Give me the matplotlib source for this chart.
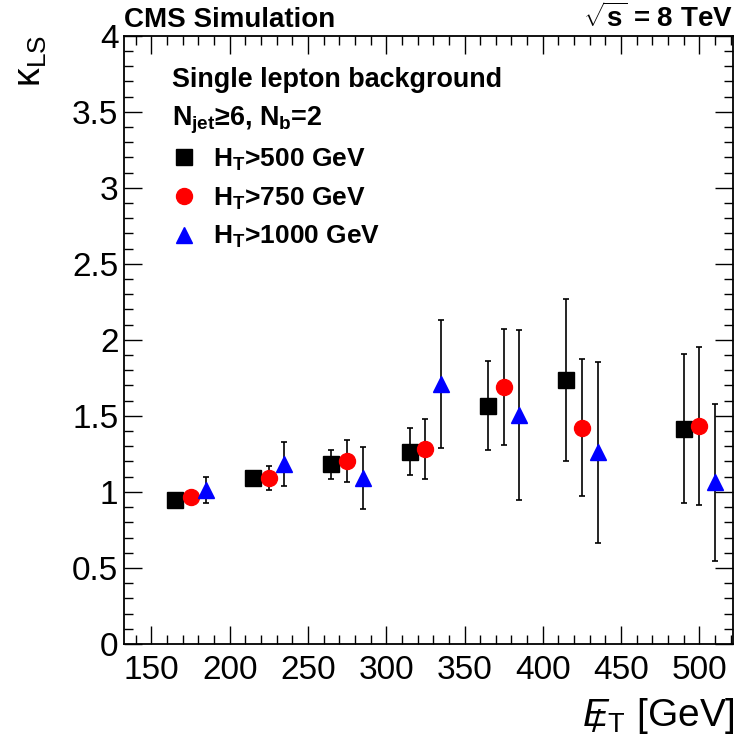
import numpy as np
import matplotlib
matplotlib.use("Agg")
import matplotlib.pyplot as plt

plt.rcParams["font.family"] = ["Liberation Sans", "DejaVu Sans"]
plt.rcParams["mathtext.fontset"] = "custom"
plt.rcParams["mathtext.rm"] = "Liberation Sans"
plt.rcParams["mathtext.it"] = "Liberation Sans:italic"
plt.rcParams["mathtext.bf"] = "Liberation Sans:bold"

# kappa_LS vs MET, three HT thresholds
met_500 = [165, 215, 265, 315, 365, 415, 490]
kappa_500 = [0.945, 1.089, 1.182, 1.264, 1.567, 1.738, 1.416]
err_500 = [0.02, 0.05, 0.094, 0.154, 0.292, 0.532, 0.492]

met_750 = [175, 225, 275, 325, 375, 425, 500]
kappa_750 = [0.967, 1.09, 1.205, 1.282, 1.687, 1.423, 1.436]
err_750 = [0.02, 0.078, 0.139, 0.2, 0.381, 0.45, 0.52]

met_1000 = [185, 235, 285, 335, 385, 435, 510]
kappa_1000 = [1.015, 1.185, 1.09, 1.709, 1.508, 1.261, 1.062]
err_1000 = [0.085, 0.145, 0.204, 0.42, 0.558, 0.595, 0.515]

labels = [r"$\mathbf{H_{T}}$>500 GeV", r"$\mathbf{H_{T}}$>750 GeV", r"$\mathbf{H_{T}}$>1000 GeV"]

fig = plt.figure(figsize=(7.36, 7.39), dpi=100)
ax = fig.add_axes([0.1685, 0.1286, 0.8274, 0.8231])

series = [
    (met_500, kappa_500, err_500, "s", "black", 11),
    (met_750, kappa_750, err_750, "o", "red", 11.5),
    (met_1000, kappa_1000, err_1000, "^", "blue", 12),
]
handles = []
for (x, y, e, m, c, ms), lab in zip(series, labels):
    h = ax.errorbar(x, y, yerr=e, fmt=m, color=c, ms=ms, mec=c,
                    ecolor="black", elinewidth=1.2, capsize=2, capthick=1.2,
                    label=lab, zorder=3)
    handles.append(h.lines[0])

ax.set_xlim(132.5, 521.5)
ax.set_ylim(0, 4)
ax.set_xticks(np.arange(150, 501, 50))
ax.set_xticks(np.arange(140, 521, 10), minor=True)
ax.set_yticks(np.arange(0, 4.01, 0.5))
ax.set_yticks(np.arange(0, 4.01, 0.1), minor=True)
ax.set_yticklabels(["0", "0.5", "1", "1.5", "2", "2.5", "3", "3.5", "4"])
ax.tick_params(which="both", direction="in", top=True, right=True, width=1)
ax.tick_params(which="major", length=13)
ax.tick_params(which="minor", length=6.5)
ax.tick_params(axis="x", labelsize=24, pad=8)
ax.tick_params(axis="y", labelsize=24, pad=4)
for s in ax.spines.values():
    s.set_linewidth(1.3)

ax.legend(handles=handles, labels=labels, loc="center left",
          bbox_to_anchor=(0.0768, 0.7325), frameon=False,
          prop={"weight": "bold", "size": 19},
          handlelength=1.0, handletextpad=0.6, borderpad=0, borderaxespad=0,
          labelspacing=0.48)

ax.text(0.0788, 0.916, "Single lepton background", transform=ax.transAxes,
        fontsize=19.4, fontweight="bold", va="baseline")
ax.text(0.0788, 0.853, r"$\mathbf{N_{jet}}$≥6, $\mathbf{N_{b}}$=2", transform=ax.transAxes,
        fontsize=19.4, fontweight="bold", va="baseline")

fig.text(0.1685, 0.963, "CMS Simulation", fontsize=20, fontweight="bold", va="baseline")
fig.text(0.996, 0.963, r"$\sqrt{\mathbf{s}}$ = 8 TeV", fontsize=20, fontweight="bold",
         va="baseline", ha="right")

fig.text(0.042, 0.953, r"$\mathrm{κ}_{\mathrm{LS}}$", fontsize=27, rotation=90, ha="center", va="top")

# missing-ET label: E_T with a slash drawn over the E
xl = fig.text(0.999, 0.017, r"$E_{\mathrm{T}}$ [GeV]", fontsize=28, ha="right", va="baseline")
fig.canvas.draw()
bb = xl.get_window_extent()
em = 28 * 100 / 72.0
fig.text((bb.x0 + 0.36 * em) / fig.bbox.width, 0.017 - 0.14 * em / fig.bbox.height, "/",
         fontsize=23, ha="center", va="baseline")

fig.savefig("out.png", dpi=100)
